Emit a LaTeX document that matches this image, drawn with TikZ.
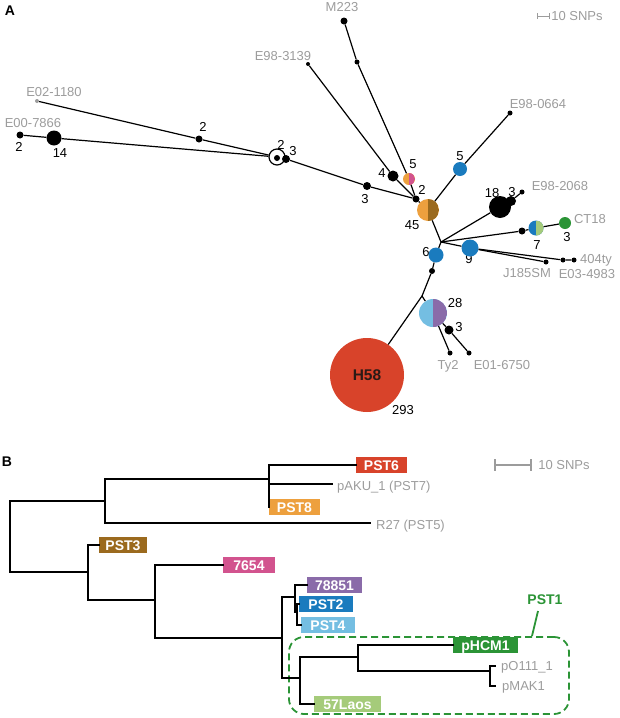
\documentclass[tikz,border=0pt]{standalone}
\usepackage{fontspec}
\setmainfont{Liberation Sans}
\definecolor{cOrange}{HTML}{EDA03E}
\definecolor{cBrown}{HTML}{9B6A1E}
\definecolor{cPink}{HTML}{D2538E}
\definecolor{cBlue}{HTML}{1A7BBE}
\definecolor{cLBlue}{HTML}{74BEE2}
\definecolor{cPurple}{HTML}{8A6BA9}
\definecolor{cGreen}{HTML}{2B9436}
\definecolor{cLGreen}{HTML}{A5CB7A}
\definecolor{cRed}{HTML}{D8432A}
\definecolor{labgray}{HTML}{9C9C9C}
\definecolor{hdark}{HTML}{2A1A16}
\begin{document}
\begin{tikzpicture}[x=1pt,y=-1pt,
  dot/.style={circle,fill=black,inner sep=0pt,minimum size=#1},
  cdot/.style 2 args={circle,fill=#1,inner sep=0pt,minimum size=#2},
  half/.style n args={3}{circle,inner sep=0pt,minimum size=#3,fill=#1,
     path picture={\fill[#2] (path picture bounding box.north) rectangle (path picture bounding box.south east);}},
  num/.style={font=\fontsize{13}{15}\selectfont,inner sep=0pt,text=black,text height=9.3pt,text depth=0pt},
  glbl/.style={font=\fontsize{13}{15}\selectfont,inner sep=0pt,text=labgray,text height=9.3pt,text depth=0pt},
  panel/.style={font=\bfseries\fontsize{14}{16}\selectfont,inner sep=0pt,text height=10pt,text depth=0pt},
  edgeA/.style={line width=1.2pt},
  tree/.style={line width=1.7pt,line cap=rect},
  pbox/.style 2 args={fill=#1,minimum width=#2,minimum height=16pt,inner sep=0pt,text=white,
     font=\bfseries\fontsize{14}{16}\selectfont,text height=10pt,text depth=0pt},
  ]
\useasboundingbox (0,0) rectangle (620,718);

% ---------------- Panel A ----------------
\node[panel] (labA) at (10,10) {A};
\draw[labgray,line width=1pt] (537,13) -- (537,19) (537,16) -- (549,16) (549,13) -- (549,19);
\node[glbl] (scA) at (577,16) {10 SNPs};

% labels (drawn first so circles overlap them)
\node[glbl] (tE02) at (54,92) {E02-1180};
\node[glbl] (tE00) at (33,123) {E00-7866};
\node[glbl] (t3139) at (283,56) {E98-3139};
\node[glbl] (tM223) at (342,7) {M223};
\node[glbl] (t0664) at (538,104) {E98-0664};
\node[glbl] (t2068) at (560,186) {E98-2068};
\node[glbl] (tCT18) at (590,219) {CT18};
\node[glbl] (t404) at (596,259) {404ty};
\node[glbl] (tJ185) at (527,273) {J185SM};
\node[glbl] (t4983) at (587,274) {E03-4983};
\node[glbl] (tTy2) at (448,365) {Ty2};
\node[glbl] (t6750) at (502,365) {E01-6750};

\node[num] (c1) at (19,147) {2};
\node[num] (c2) at (60,153) {14};
\node[num] (c3) at (203,127) {2};
\node[num] (c4) at (281,145) {2};
\node[num] (c5) at (293,151) {3};
\node[num] (c6) at (382,173) {4};
\node[num] (c7) at (413,164) {5};
\node[num] (c8) at (365,199) {3};
\node[num] (c9) at (422,190) {2};
\node[num] (c10) at (412,225) {45};
\node[num] (c11) at (460,156) {5};
\node[num] (c12) at (492,193) {18};
\node[num] (c13) at (512,192) {3};
\node[num] (c14) at (537,245) {7};
\node[num] (c15) at (567,237) {3};
\node[num] (c16) at (426,252) {6};
\node[num] (c17) at (469,259) {9};
\node[num] (c18) at (455,303) {28};
\node[num] (c19) at (459,327) {3};
\node[num] (c20) at (403,410) {293};

% nodes
\node[cdot={labgray}{4}] (eA02) at (37,101) {};
\node[dot=7] (eA00) at (20,135) {};
\node[dot=15] (n14) at (54,138) {};
\node[dot=7] (d2a) at (199,139) {};
\node[circle,draw,line width=1.2pt,fill=white,inner sep=0pt,minimum size=16] (ring) at (277,157) {};
\node[dot=6] (dring) at (277,158) {};
\node[dot=8] (d286) at (286,159) {};
\node[dot=8] (d367) at (367,186) {};
\node[dot=7] (j2) at (416,199) {};
\node[dot=11] (n4) at (393,176) {};
\node[dot=4] (e3139) at (308,64) {};
\node[dot=7] (m223) at (344,21) {};
\node[dot=5] (d357) at (357,62) {};
\node[half={cOrange}{cPink}{12}] (n5op) at (409,179) {};
\node[half={cOrange}{cBrown}{22}] (n45) at (428,210) {};
\node[cdot={cBlue}{14}] (n5b) at (460,169) {};
\node[dot=5] (e0664) at (510,113) {};
\coordinate (br) at (441,242);
\node[dot=22] (n18) at (500,207) {};
\node[dot=10] (n3a) at (511,201) {};
\node[dot=5] (e2068) at (522,192) {};
\node[dot=7] (d522) at (522,231) {};
\node[half={cBlue}{cLGreen}{15}] (n7) at (536,228) {};
\node[cdot={cGreen}{12}] (nct) at (565,223) {};
\node[cdot={cBlue}{17}] (n9) at (470,248) {};
\node[dot=5] (ej185) at (546,262) {};
\node[dot=5] (e4983) at (563,260) {};
\node[dot=5] (e404) at (574,260) {};
\node[cdot={cBlue}{15}] (n6) at (436,255) {};
\node[dot=6] (d432) at (432,271) {};
\coordinate (br2) at (422,296);
\node[circle,fill=cRed,inner sep=0pt,minimum size=74,font=\bfseries\fontsize{15.5}{17}\selectfont,text=hdark] (h58) at (367,375) {H58};
\node[half={cLBlue}{cPurple}{28}] (n28) at (433,313) {};
\node[dot=9] (n3b) at (449,330) {};
\node[dot=5] (ety2) at (450,353) {};
\node[dot=5] (e6750) at (469,353) {};

% edges
\draw[edgeA] (eA02) -- (d2a) -- (ring);
\draw[edgeA] (eA00) -- (n14) -- (ring);
\draw[edgeA] (d286) -- (d367) -- (j2);
\draw[edgeA] (e3139) -- (n4) -- (j2);
\draw[edgeA] (m223) -- (d357) -- (n5op) -- (j2);
\draw[edgeA] (j2) -- (n45);
\draw[edgeA] (n45) -- (n5b) -- (e0664);
\draw[edgeA] (n45) -- (br);
\draw[edgeA] (br) -- (n18);
\draw[edgeA] (n3a) -- (e2068);
\draw[edgeA] (br) -- (d522) -- (n7) -- (nct);
\draw[edgeA] (br) -- (n9);
\draw[edgeA] (n9) -- (ej185);
\draw[edgeA] (n9) -- (e4983) -- (e404);
\draw[edgeA] (br) -- (n6) -- (d432) -- (br2);
\draw[edgeA] (br2) -- (h58);
\draw[edgeA] (br2) -- (n28);
\draw[edgeA] (n28) -- (ety2);
\draw[edgeA] (n28) -- (n3b) -- (e6750);

% ---------------- Panel B ----------------
\node[panel] (labB) at (7,461) {B};
\draw[labgray,line width=1.2pt] (495,459) -- (495,471) (495,465) -- (531,465) (531,459) -- (531,471);
\node[glbl] (scB) at (564,465) {10 SNPs};

\node[draw=cGreen,dashed,dash pattern=on 7pt off 4pt,line width=1.8pt,rounded corners=15pt,
      minimum width=280pt,minimum height=77pt,inner sep=0pt] (pst1box) at (429,675.5) {};
\node[font=\bfseries\fontsize{14}{16}\selectfont,text=cGreen,inner sep=0pt,text height=10pt,text depth=0pt] (pst1lbl) at (545,599) {PST1};
\coordinate (p1a) at (538,611);
\coordinate (p1b) at (532,636);
\draw[cGreen,line width=1.8pt] (p1a) -- (p1b);

% leaves
\node[pbox={cRed}{51pt}] (pst6) at (381.5,465) {PST6};
\node[pbox={cOrange}{51pt}] (pst8) at (294.5,507) {PST8};
\node[pbox={cBrown}{48pt}] (pst3) at (123,545) {PST3};
\node[pbox={cPink}{52pt}] (l7654) at (249,565) {7654};
\node[pbox={cPurple}{55pt}] (l78851) at (334.5,585) {78851};
\node[pbox={cBlue}{54pt}] (pst2) at (326,604) {PST2};
\node[pbox={cLBlue}{54pt}] (pst4) at (328,625) {PST4};
\node[pbox={cGreen}{65pt}] (phcm) at (485.5,645) {pHCM1};
\node[pbox={cLGreen}{67pt}] (laos) at (347.5,704) {57Laos};

\coordinate (akuE) at (332,484);
\coordinate (r27E) at (370,523);
\coordinate (poE) at (495,666);
\coordinate (pmE) at (495,686);
\node[glbl,anchor=west] (aku) at (337,486) {pAKU\_1 (PST7)};
\node[glbl,anchor=west] (r27) at (376,525) {R27 (PST5)};
\node[glbl,anchor=west] (po) at (501,666) {pO111\_1};
\node[glbl,anchor=west] (pm) at (502,686) {pMAK1};

% internal nodes
\coordinate (b0) at (10,536);
\coordinate (bA) at (105,501);
\coordinate (bA1) at (269,479);
\coordinate (bB) at (88,572);
\coordinate (bB1) at (155,600);
\coordinate (bB2) at (282,638);
\coordinate (bB3) at (295,597);
\coordinate (bB5) at (297,612);
\coordinate (bB4) at (300,678);
\coordinate (bB6) at (358,657);
\coordinate (bB7) at (490,671);

\draw[tree] (b0) |- (bA);
\draw[tree] (b0) |- (bB);
\draw[tree] (bA) |- (bA1);
\draw[tree] (bA) |- (r27E);
\draw[tree] (bA1) |- (pst6.west);
\draw[tree] (bA1) |- (akuE);
\draw[tree] (bA1) |- (pst8.west);
\draw[tree] (bB) |- (pst3.west);
\draw[tree] (bB) |- (bB1);
\draw[tree] (bB1) |- (l7654.west);
\draw[tree] (bB1) |- (bB2);
\draw[tree] (bB2) |- (bB3);
\draw[tree] (bB2) |- (bB4);
\draw[tree] (bB3) |- (l78851.west);
\draw[tree] (bB3) |- (bB5);
\draw[tree] (bB5) |- (pst2.west);
\draw[tree] (bB5) |- (pst4.west);
\draw[tree] (bB4) |- (bB6);
\draw[tree] (bB4) |- (laos.west);
\draw[tree] (bB6) |- (phcm.west);
\draw[tree] (bB6) |- (bB7);
\draw[tree] (bB7) |- (poE);
\draw[tree] (bB7) |- (pmE);
\end{tikzpicture}
\end{document}
